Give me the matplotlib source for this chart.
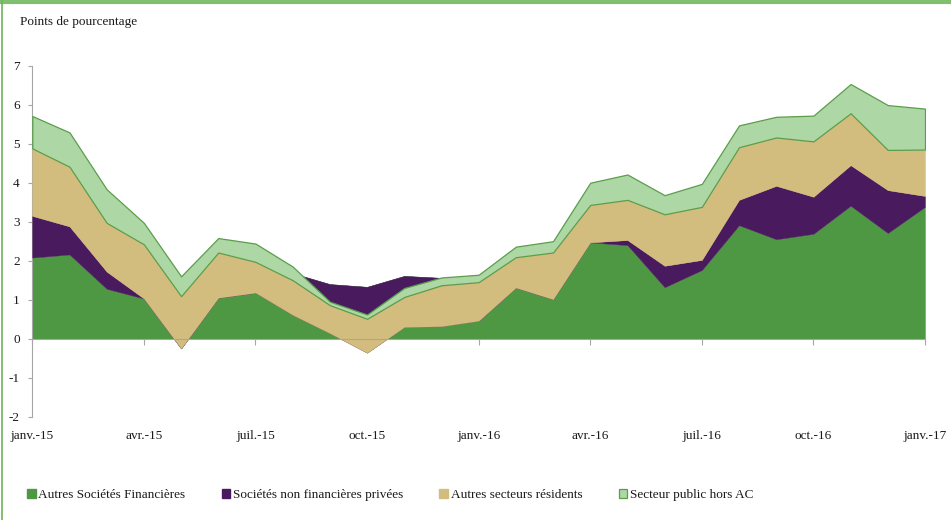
import matplotlib
matplotlib.use("Agg")
import matplotlib.pyplot as plt
from matplotlib.patches import Patch
from matplotlib.lines import Line2D
import numpy as np

plt.rcParams['font.family'] = ['Liberation Serif', 'DejaVu Serif']
plt.rcParams['font.size'] = 9.5
plt.rcParams['axes.unicode_minus'] = False

months = ['janv.-15', 'févr.-15', 'mars-15', 'avr.-15', 'mai-15', 'juin-15',
          'juil.-15', 'août-15', 'sept.-15', 'oct.-15', 'nov.-15', 'déc.-15',
          'janv.-16', 'févr.-16', 'mars-16', 'avr.-16', 'mai-16', 'juin-16',
          'juil.-16', 'août-16', 'sept.-16', 'oct.-16', 'nov.-16', 'déc.-16',
          'janv.-17']

# contributions (points de pourcentage), stacked in this order
autres_sf = [2.08, 2.16, 1.28, 1.03, -0.25, 1.05, 1.18, 1.68, 1.40, 1.33, 1.61, 1.56,
             0.46, 1.31, 1.01, 2.47, 2.40, 1.32, 1.76, 2.91, 2.55, 2.69, 3.41, 2.71, 3.38]
snf_privees = [1.07, 0.72, 0.44, 0.00, 0.00, 0.00, 0.00, -1.07, -1.26, -1.69, -1.31, -1.24,
               0.00, 0.00, 0.00, 0.00, 0.13, 0.55, 0.26, 0.65, 1.37, 0.95, 1.04, 1.10, 0.28]
autres_res = [1.73, 1.53, 1.25, 1.39, 1.34, 1.16, 0.79, 0.89, 0.72, 0.87, 0.77, 1.05,
              0.99, 0.78, 1.20, 0.96, 1.03, 1.32, 1.36, 1.35, 1.24, 1.42, 1.33, 1.03, 1.19]
public_hors_ac = [0.83, 0.88, 0.86, 0.55, 0.51, 0.37, 0.47, 0.35, 0.09, 0.11, 0.23, 0.20,
                  0.19, 0.27, 0.29, 0.57, 0.65, 0.49, 0.59, 0.56, 0.53, 0.66, 0.75, 1.15, 1.05]

names = ['Autres Sociétés Financières', 'Sociétés non financières privées',
         'Autres secteurs résidents', 'Secteur public hors AC']
colors = ['#4f9843', '#4a1a5f', '#d3bd7e', '#aed7a6']
edge = '#5a9e4a'

x = np.arange(len(months))
series = np.array([autres_sf, snf_privees, autres_res, public_hors_ac])
tops = np.cumsum(series, axis=0)
bottoms = np.vstack([np.zeros(len(x)), tops[:-1]])

fig = plt.figure(figsize=(9.51, 5.20), dpi=100)
ax = fig.add_axes([32.3 / 951, 1 - 416.7 / 520, (925 - 32.3) / 951, (416.7 - 65.7) / 520])

for i in range(4):
    if i == 3:
        ax.fill_between(x, bottoms[i], tops[i], facecolor=colors[i],
                        edgecolor=edge, linewidth=0.9, zorder=2 + i)
    else:
        ax.fill_between(x, bottoms[i], tops[i], facecolor=colors[i],
                        edgecolor=colors[i], linewidth=0.3, zorder=2 + i)

ax.set_xlim(0, 24)
ax.set_ylim(-2, 7)
ax.set_yticks(range(-2, 8))
ax.set_xticks(x[::3])
ax.set_xticklabels(months[::3])

ax.spines['top'].set_visible(False)
ax.spines['right'].set_visible(False)
ax.spines['bottom'].set_position(('data', 0))
ax.spines['bottom'].set_color('#a6a6a6')
ax.spines['bottom'].set_zorder(10)
ax.spines['left'].set_color('#a6a6a6')
ax.tick_params(axis='y', direction='out', length=3, color='#a6a6a6', pad=6,
               labelsize=9.5, labelcolor='#1a1a1a')
ax.tick_params(axis='x', direction='out', length=4, color='#a6a6a6', pad=62,
               labelsize=9.5, labelcolor='#1a1a1a')
ax.patch.set_visible(False)

fig.text(20 / 951, 1 - 22 / 520, 'Points de pourcentage', ha='left', va='center',
         fontsize=9.5, color='#1a1a1a')

handles = [Patch(facecolor=colors[0], edgecolor=colors[0]),
           Patch(facecolor=colors[1], edgecolor=colors[1]),
           Patch(facecolor=colors[2], edgecolor=colors[2]),
           Patch(facecolor=colors[3], edgecolor=edge, linewidth=0.9)]
fig.legend(handles, names, loc='center left', bbox_to_anchor=(27 / 951, 1 - 495 / 520),
           ncol=4, frameon=False, borderpad=0, borderaxespad=0, handlelength=0.65,
           handleheight=0.65, handletextpad=0.2, columnspacing=2.75, fontsize=9.5,
           labelcolor='#1a1a1a')

# frame of the original exhibit
fig.add_artist(Line2D([0, 1], [1 - 2 / 520, 1 - 2 / 520], transform=fig.transFigure,
                      color='#80bf70', linewidth=3))
fig.add_artist(Line2D([2 / 951, 2 / 951], [0, 1], transform=fig.transFigure,
                      color='#6fb25e', linewidth=1.2))

plt.savefig('out.png', dpi=100)
